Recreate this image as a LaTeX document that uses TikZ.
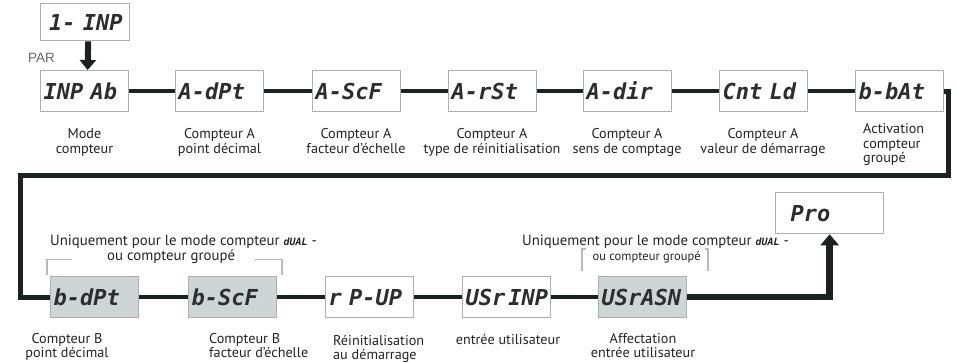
\documentclass[tikz,border=0pt]{standalone}
\usepackage{fontspec}
\setmainfont{PT Sans}
\newfontfamily\segfont{DejaVu Sans Mono}
\newfontfamily\parfont{Liberation Sans}
\usetikzlibrary{arrows.meta}
\definecolor{ink}{RGB}{27,34,32}
\definecolor{boxgray}{RGB}{205,213,213}
\definecolor{boxline}{RGB}{175,175,175}
\definecolor{segink}{RGB}{45,45,45}
\definecolor{txt}{RGB}{35,35,35}
\newcommand\lblc[1]{\begin{tabular}[t]{@{}c@{}}#1\end{tabular}}
\newcommand\lbll[1]{\begin{tabular}[t]{@{}l@{}}#1\end{tabular}}
\newcommand\segsmall[1]{{\segfont\bfseries\itshape\fontsize{10}{10}\selectfont #1}}
\tikzset{
  disp/.style={draw=boxline, line width=1.3pt, minimum height=41pt,
    text width=82pt, inner xsep=3pt, inner ysep=0pt, align=left,
    font={\segfont\fontsize{22}{22}\selectfont\bfseries\itshape},
    text=segink, anchor=north west},
  gdisp/.style={disp, fill=boxgray},
  conn/.style={draw=ink, line width=4.5pt},
  loopline/.style={draw=ink, line width=5pt, line join=miter},
  lbl/.style={font=\fontsize{14.2}{14.5}\selectfont, text=txt, inner sep=0pt},
  brtxt/.style={font=\fontsize{14.8}{15}\selectfont, text=txt, inner sep=0pt, anchor=base west},
  brack/.style={draw=gray!55, line width=1.4pt}
}
\begin{document}
\begin{tikzpicture}[x=1pt, y=-1pt]
\useasboundingbox (0,0) rectangle (957,362);

% top entry box
\node[disp, minimum height=37pt, text width=80pt, inner xsep=4.5pt] (t0) at (40,3) {\hspace*{4pt}1- INP};
\node[font={\parfont\fontsize{13.5}{13.5}\selectfont}, text=gray!80!black, inner sep=0pt] (par) at (41.5,57.5) {PAR};

% first row
\node[disp] (b1) at (40,70)  {INP Ab};
\node[disp] (b2) at (175,70) {A-dPt};
\node[disp] (b3) at (312,70) {A-ScF};
\node[disp] (b4) at (448,70) {A-rSt};
\node[disp] (b5) at (583,70) {A-dir};
\node[disp] (b6) at (719,70) {Cnt Ld};
\node[disp] (b7) at (855,70) {b-bAt};

% second row
\node[gdisp] (b8)  at (50,276)  {b-dPt};
\node[gdisp] (b9)  at (188,276) {b-ScF};
\node[disp]  (b10) at (325,276) {r P-UP};
\node[disp]  (b11) at (462,276) {USr\kern3pt INP};
\node[gdisp] (b12) at (598,276) {USrASN};
\node[disp, text width=78pt, inner xsep=15pt] (pro) at (775,192) {Pro};

% connectors
\draw[conn, line width=6pt, -{Triangle[width=16pt,length=10pt]}] ([xshift=3pt]t0.south) -- ([xshift=3pt]b1.north);
\draw[conn] (b1.east) -- (b2.west);
\draw[conn] (b2.east) -- (b3.west);
\draw[conn] (b3.east) -- (b4.west);
\draw[conn] (b4.east) -- (b5.west);
\draw[conn] (b5.east) -- (b6.west);
\draw[conn] (b6.east) -- (b7.west);
\coordinate (cR) at (948.5,175.5);
\coordinate (cL) at (20.5,175.5);
\draw[loopline] (b7.east) -| (cR) -- (cL) |- (b8.west);
\draw[conn] (b8.east) -- (b9.west);
\draw[conn] (b9.east) -- (b10.west);
\draw[conn] (b10.east) -- (b11.west);
\draw[conn] (b11.east) -- (b12.west);
\draw[conn, line width=6.5pt, line join=miter, -{Triangle[width=18pt,length=11pt]}] (b12.east) -| (pro.south);

% labels first row
\node[lbl, anchor=base] (l1) at (84.5,138.5) {\lblc{Mode\\compteur}};
\node[lbl, anchor=base] (l2) at (219.5,138.5) {\lblc{Compteur A\\point décimal}};
\node[lbl, anchor=base] (l3) at (356,138.5) {\lblc{Compteur A\\facteur d’échelle}};
\node[lbl, anchor=base] (l4) at (492,138.5) {\lblc{Compteur A\\type de réinitialisation}};
\node[lbl, anchor=base] (l5) at (627,138.5) {\lblc{Compteur A\\sens de comptage}};
\node[lbl, anchor=base] (l6) at (763,138.5) {\lblc{Compteur A\\valeur de démarrage}};
\node[lbl, anchor=base west] (l7) at (863,133.5) {\lbll{Activation\\compteur\\groupé}};

% labels second row
\node[lbl, anchor=base] (l8) at (67,343) {\lblc{Compteur B\\point décimal}};
\node[lbl, anchor=base west] (l9) at (209,343) {\lbll{Compteur B\\facteur d’échelle}};
\node[lbl, anchor=base west] (l10) at (333,345) {\lbll{Réinitialisation\\au démarrage}};
\node[lbl, anchor=base] (l11) at (508,344) {entrée utilisateur};
\node[lbl, anchor=base] (l12) at (643,343) {\lblc{Affectation\\entrée utilisateur}};

% bracket notes
\node[brtxt] (n1) at (50,245) {\lblc{Uniquement pour le mode compteur \segsmall{dUAL} -\\ou compteur groupé\hspace*{25pt}}};
\node[brtxt] (n2) at (522,245) {\lblc{Uniquement pour le mode compteur \segsmall{dUAL} -\\{\fontsize{12.5}{15}\selectfont ou compteur groupé}\hspace*{18pt}}};

\draw[brack] (47,275) -- (47,259.5) -- (72,259.5);
\draw[brack] (255,259.5) -- (282,259.5) -- (282,275);
\draw[brack] (585.5,249) -- (582,249) -- (582,271);
\draw[brack] (704.5,249) -- (708,249) -- (708,271);
\end{tikzpicture}
\end{document}
